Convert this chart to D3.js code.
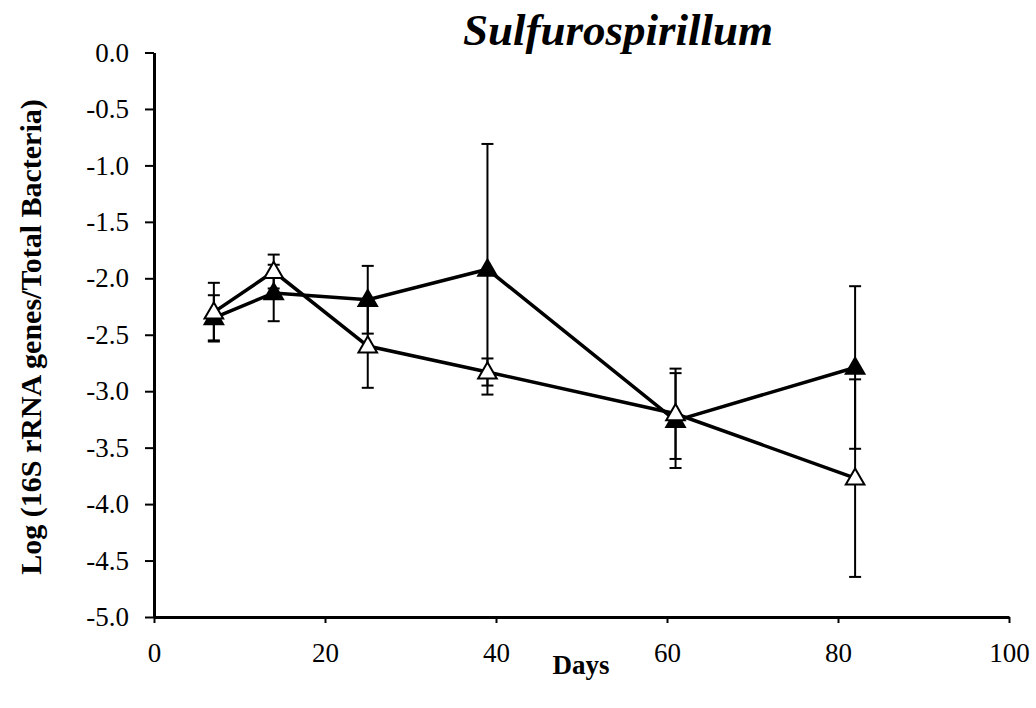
<!DOCTYPE html>
<html lang="en">
<head>
<meta charset="UTF-8">
<title>Sulfurospirillum</title>
<script src="https://d3js.org/d3.v7.min.js"></script>
<style>
  body { margin: 0; background: #fff; }
  text { font-family: "Liberation Serif", "Times New Roman", serif; fill: #000; }
</style>
</head>
<body>
<div id="chart"></div>
<script>
// data
const days = [7, 14, 25, 39, 61, 82];
const filledVals = [-2.35, -2.13, -2.19, -1.92, -3.26, -2.79];
const filledErr = [0.20, 0.25, 0.30, 1.11, 0.42, 0.72];
const openVals = [-2.30, -1.94, -2.60, -2.83, -3.20, -3.77];
const openErr = [0.26, 0.15, 0.37, 0.12, 0.40, 0.875];
const xTicks = [0, 20, 40, 60, 80, 100];
const yTicks = [0, -0.5, -1, -1.5, -2, -2.5, -3, -3.5, -4, -4.5, -5];

const width = 1036, height = 708;
const margin = {top: 52.5, right: 27, bottom: 91, left: 154};

const x = d3.scaleLinear().domain([0, 100]).range([margin.left, width - margin.right]);
const y = d3.scaleLinear().domain([-5, 0]).range([height - margin.bottom, margin.top]);

const svg = d3.select("#chart").append("svg")
  .attr("width", width).attr("height", height);

// axes
const xAxis = svg.append("g")
  .attr("transform", `translate(0,${y(-5)})`)
  .call(d3.axisBottom(x).tickValues(xTicks).tickSize(6).tickSizeOuter(0));
const yAxis = svg.append("g")
  .attr("transform", `translate(${x(0)},0)`)
  .call(d3.axisLeft(y).tickValues(yTicks).tickSize(9).tickSizeOuter(0).tickPadding(16)
    .tickFormat(d => d3.format(".1f")(d).replace("−", "-")));

[xAxis, yAxis].forEach(g => {
  g.attr("font-size", null).attr("font-family", null);
  g.select(".domain").attr("stroke-width", 3);
  g.selectAll(".tick line").attr("stroke-width", 2);
  g.selectAll(".tick text")
    .style("font-size", "27px")
    .style("font-family", "'Liberation Serif', serif")
    .attr("fill", "#000");
});
xAxis.selectAll(".tick text").attr("dy", 0).attr("y", 45);

function series(vals, errs, fill) {
  const pts = days.map((d, i) => ({d, v: vals[i], e: errs[i]}));
  const g = svg.append("g");
  // error bars
  const eb = g.selectAll(".eb").data(pts).enter().append("g")
    .attr("stroke", "#000").attr("stroke-width", 2);
  eb.append("line")
    .attr("x1", p => x(p.d)).attr("x2", p => x(p.d))
    .attr("y1", p => y(p.v - p.e)).attr("y2", p => y(p.v + p.e));
  [-1, 1].forEach(s => {
    eb.append("line")
      .attr("x1", p => x(p.d) - 6).attr("x2", p => x(p.d) + 6)
      .attr("y1", p => y(p.v + s * p.e)).attr("y2", p => y(p.v + s * p.e));
  });
  return {g, pts, fill};
}

const sFilled = series(filledVals, filledErr, "#000");
const sOpen = series(openVals, openErr, "#fff");

const line = d3.line().x(p => x(p.d)).y(p => y(p.v));
[sFilled, sOpen].forEach(s => {
  svg.append("path").datum(s.pts)
    .attr("d", line).attr("fill", "none")
    .attr("stroke", "#000").attr("stroke-width", 3.5);
});

const tri = d3.symbol().type(d3.symbolTriangle).size(150);
[sFilled, sOpen].forEach(s => {
  svg.append("g").selectAll("path").data(s.pts).enter().append("path")
    .attr("d", tri)
    .attr("transform", p => `translate(${x(p.d)},${y(p.v) + 1})`)
    .attr("fill", s.fill).attr("stroke", "#000").attr("stroke-width", 2);
});

// title and labels
svg.append("text")
  .attr("x", 618).attr("y", 45)
  .attr("text-anchor", "middle")
  .attr("font-size", 45).attr("font-weight", "bold").attr("font-style", "italic")
  .text("Sulfurospirillum");

svg.append("text")
  .attr("x", 581).attr("y", 674)
  .attr("text-anchor", "middle")
  .attr("font-size", 27).attr("font-weight", "bold")
  .text("Days");

svg.append("text")
  .attr("transform", "translate(41,337) rotate(-90)")
  .attr("text-anchor", "middle")
  .attr("font-size", 30).attr("font-weight", "bold")
  .text("Log (16S rRNA genes/Total Bacteria)");
</script>
</body>
</html>
